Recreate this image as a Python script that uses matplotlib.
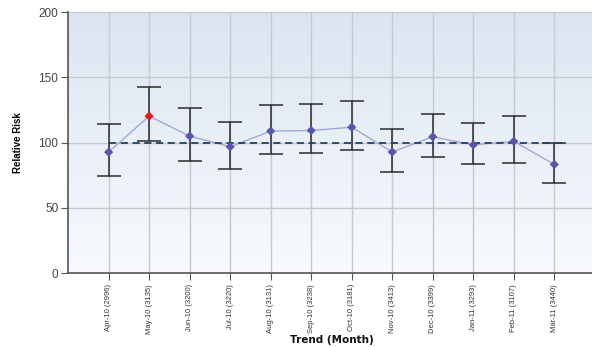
import numpy as np
import matplotlib
matplotlib.use("Agg")
import matplotlib.pyplot as plt
from matplotlib.colors import LinearSegmentedColormap

months = ["Apr-10 (2996)", "May-10 (3135)", "Jun-10 (3200)", "Jul-10 (3220)",
          "Aug-10 (3131)", "Sep-10 (3238)", "Oct-10 (3181)", "Nov-10 (3413)",
          "Dec-10 (3399)", "Jan-11 (3293)", "Feb-11 (3107)", "Mar-11 (3440)"]
risk = [92.7, 120.3, 105.0, 96.8, 108.8, 109.3, 111.8, 92.8, 104.5, 98.3, 101.0, 83.3]
upper = [114.5, 142.5, 126.2, 115.8, 128.8, 129.3, 131.8, 110.2, 121.7, 114.8, 120.4, 100.0]
lower = [74.5, 101.5, 86.0, 79.8, 91.4, 91.8, 94.2, 77.8, 89.0, 83.4, 84.4, 68.8]
highlight = [1]  # May-10 flagged red
baseline = 100

NARROW = ["Liberation Sans Narrow", "Liberation Sans", "DejaVu Sans"]

# -------------------------------------------------
# Figure + layout
# -------------------------------------------------
DPI = 100
fig = plt.figure(figsize=(592 / DPI, 347 / DPI), dpi=DPI)
fig.patch.set_facecolor("white")
ax = fig.add_axes([0.115, 0.213, 0.885, 0.752])

x = np.arange(len(months))
ax.set_xlim(-1.0, 11.93)
ax.set_ylim(0, 200)

# background gradient
cmap = LinearSegmentedColormap.from_list("bg", ["#f8fafd", "#dbe5f1"])
grad = np.linspace(0, 1, 256).reshape(-1, 1)
ax.imshow(grad, aspect="auto", cmap=cmap, origin="lower",
          extent=[-1.0, 11.93, 0, 200], zorder=0)

ax.set_yticks([0, 50, 100, 150, 200])
ax.set_xticks(x)
ax.grid(True, color="#c6cacf", linewidth=1.0, zorder=1)

# -------------------------------------------------
# Draw data
# -------------------------------------------------
ax.plot(x, risk, color="#a6a6d6", linewidth=1.0, zorder=3)
ax.errorbar(x, risk,
            yerr=[np.array(risk) - np.array(lower), np.array(upper) - np.array(risk)],
            fmt="none", ecolor="#2a2a2a", elinewidth=1.1, capsize=8.5,
            capthick=1.1, zorder=4)
ax.plot([x[0], x[-1] + 0.2], [baseline, baseline], color="#1f4466",
        linewidth=1.3, linestyle=(0, (4, 2.5)), zorder=5)

colors = ["#d42020" if i in highlight else "#5a55a8" for i in range(len(x))]
ax.scatter(x, risk, marker="D", s=22, c=colors, zorder=6, linewidths=0)

# -------------------------------------------------
# Axes styling
# -------------------------------------------------
for side in ["top", "right"]:
    ax.spines[side].set_visible(False)
for side in ["left", "bottom"]:
    ax.spines[side].set_color("#555555")
    ax.spines[side].set_linewidth(1.2)

ax.tick_params(axis="y", length=5, color="#555555", pad=2)
ax.set_yticklabels(["0", "50", "100", "150", "200"], fontsize=8.5,
                   family=NARROW, color="#444444")
ax.tick_params(axis="x", length=5, color="#555555", pad=3)
ax.set_xticklabels(months, rotation=90, fontsize=5.5, family=NARROW,
                   color="#333333")

fig.text(0.03, 0.59, "Relative Risk", rotation=90, fontsize=7,
         fontweight="bold", family=NARROW, ha="center", va="center")
fig.text(0.56, 0.02, "Trend (Month)", fontsize=7.5, fontweight="bold",
         ha="center", va="center", color="#111111")

fig.savefig("out.png", dpi=DPI, facecolor=fig.get_facecolor())
